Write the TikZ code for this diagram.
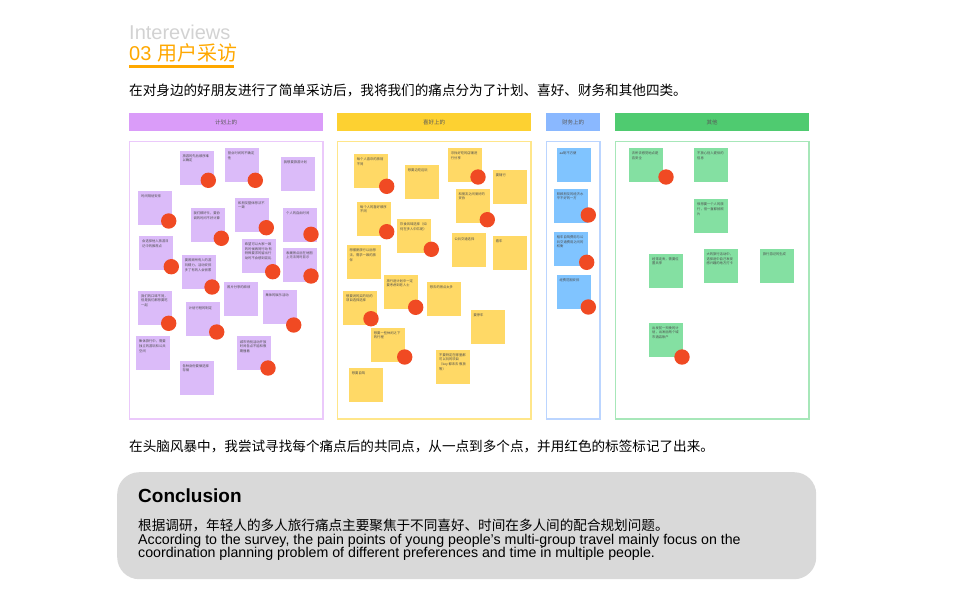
\documentclass[tikz,border=0pt]{standalone}
\usepackage{fontspec}
\setmainfont{Liberation Sans}
\newfontfamily\cjk{Noto Sans CJK SC}
\XeTeXlinebreaklocale "zh"
\XeTeXlinebreakskip=0pt plus 1pt
\definecolor{titlegray}{HTML}{D2D2D2}
\definecolor{orangeC}{HTML}{FFA800}
\definecolor{pHead}{HTML}{DA9CF9}
\definecolor{pFrame}{HTML}{EBC9FB}
\definecolor{pNote}{HTML}{DBBBF9}
\definecolor{yHead}{HTML}{FDD131}
\definecolor{yFrame}{HTML}{FFE68A}
\definecolor{yNote}{HTML}{FFD966}
\definecolor{bHead}{HTML}{8AB8FF}
\definecolor{bFrame}{HTML}{BBD5FF}
\definecolor{bNote}{HTML}{80C4FF}
\definecolor{gHead}{HTML}{4FCB70}
\definecolor{gFrame}{HTML}{A7E7B9}
\definecolor{gNote}{HTML}{84E0A2}
\definecolor{redDot}{HTML}{F04A23}
\definecolor{concl}{HTML}{D9D9D9}
\newcommand\nt[1]{\parbox[t][26pt][t]{28pt}{\raggedright #1}}
\begin{document}
\begin{tikzpicture}[x=1pt,y=-1pt,
  note/.style={anchor=north west, minimum width=34pt, minimum height=34pt, inner sep=3pt, font=\cjk\fontsize{3.3}{4.6}\selectfont, text=black!70},
  pn/.style={note, fill=pNote},
  yn/.style={note, fill=yNote},
  bn/.style={note, fill=bNote},
  gn/.style={note, fill=gNote},
  dot/.style={circle, fill=redDot, minimum size=15.4pt, inner sep=0pt},
  head/.style={anchor=north west, minimum height=18pt, inner sep=0pt, font=\cjk\fontsize{5.5}{6}\selectfont, text=black!65},
  frame/.style={line width=1.2pt},
  bodytext/.style={anchor=base west, inner sep=0pt, font=\cjk\fontsize{13.6}{16}\selectfont}
]
\useasboundingbox (0,0) rectangle (957,600);

% titles
\node[anchor=base west, inner sep=0pt, text=titlegray, font=\fontsize{20}{24}\selectfont] (ttl) at (129,39) {Intereviews};
\node[anchor=base west, inner sep=0pt, text=orangeC, font=\fontsize{20}{24}\selectfont] (sub) at (129,60.5) {03 {\cjk 用户采访}};
\coordinate (ulA) at (129,66.5);
\coordinate (ulB) at (234,66.5);
\draw[orangeC, line width=3pt] (ulA) -- (ulB);
\node[bodytext] (intro) at (129,95) {在对身边的好朋友进行了简单采访后，我将我们的痛点分为了计划、喜好、财务和其他四类。};

% headers
\node[head, fill=pHead, minimum width=194pt] (hp) at (129,113) {计划上的};
\node[head, fill=yHead, minimum width=194pt] (hy) at (337,113) {喜好上的};
\node[head, fill=bHead, minimum width=54pt] (hb) at (546,113) {财务上的};
\node[head, fill=gHead, minimum width=194pt] (hg) at (615,113) {其他};

% frames
\draw[frame, pFrame] (129.5,141.5) rectangle (323,419);
\draw[frame, yFrame] (337.5,141.5) rectangle (531,419);
\draw[frame, bFrame] (546.5,141.5) rectangle (600,419);
\draw[frame, gFrame] (615.5,141.5) rectangle (809,419);

% purple notes
\node[pn] (p1) at (179.3,150.3) {\nt{旅游的先后顺序难以确定}};
\node[pn] (p2) at (224.7,148) {\nt{营业时间的不确定性}};
\node[pn] (p3) at (280.7,156.3) {\nt{我想要旅游计划}};
\node[pn] (p4) at (138,191) {\nt{时间规划安排}};
\node[pn] (p5) at (190.3,208) {\nt{我们都好忙，要协调的时间不好计算}};
\node[pn] (p6) at (235,197.3) {\nt{和朋友整体想法不一致}};
\node[pn] (p7) at (283,208) {\nt{个人的自由时间}};
\node[pn] (p8) at (139,236) {\nt{会选择他人旅游日记中的推荐点}};
\node[pn] (p9) at (241.7,238.7) {\nt{希望可以大家一致的时候再同行动 有特殊要求的留出行动时不会感到混乱}};
\node[pn] (p10) at (283,247.3) {\nt{收藏景点后在地图上无法同时显示}};
\node[pn] (p11) at (181.7,255) {\nt{要照顾所有人的游玩精力，活动安排多了有的人会很累}};
\node[pn] (p12) at (224,281.7) {\nt{照片分享的麻烦}};
\node[pn] (p13) at (262.3,290) {\nt{集体的娱乐活动}};
\node[pn] (p14) at (138,290.3) {\nt{我们的口味不同，但是我们都想要吃一起}};
\node[pn] (p15) at (185.7,302) {\nt{计划行程的制定}};
\node[pn] (p16) at (136,336) {\nt{集体旅行中，需要独立的游玩和公共空间}};
\node[pn] (p17) at (236.7,336) {\nt{城市特别活动开放时间各点不能和假期撞着}};
\node[pn] (p18) at (179.3,360.3) {\nt{各种身份要做选择存储}};

% yellow notes
\node[yn] (y1) at (353.7,154) {\nt{每个人喜欢的旅馆不同}};
\node[yn] (y2) at (404.7,164.3) {\nt{想要边吃边玩}};
\node[yn] (y3) at (447.7,147.7) {\nt{寻找好吃的店铺进行分享}};
\node[yn] (y4) at (492.7,169.3) {\nt{要随行}};
\node[yn] (y5) at (455.3,188.3) {\nt{和朋友之间爱好的妥协}};
\node[yn] (y6) at (357,201.3) {\nt{每个人的喜好顺序不同}};
\node[yn] (y7) at (397,218.7) {\nt{饮食风味选择（如何在多人中匹配）}};
\node[yn] (y8) at (451.3,233) {\nt{公共交通选择}};
\node[yn] (y9) at (492.7,236) {\nt{看车}};
\node[yn] (y10) at (346.3,245) {\nt{想摆脱旅行以后想法，需求一致的旅伴}};
\node[yn] (y11) at (383.3,275) {\nt{旅行途计划中一定要考虑到老人士}};
\node[yn] (y12) at (426.7,281.7) {\nt{想去的景点太多}};
\node[yn] (y13) at (343,290.3) {\nt{想要说的买的玩的项目选择选择}};
\node[yn] (y14) at (470.3,309.7) {\nt{要停车}};
\node[yn] (y15) at (370.7,327.3) {\nt{想要一些休闲之下的行程}};
\node[yn] (y16) at (436,349.3) {\nt{不要特定在哪里都可以玩的项目（key 都未去 假放等）}};
\node[yn] (y17) at (348.7,368) {\nt{想要自驾}};

% blue notes
\node[bn] (b1) at (556.3,148) {\nt{aa制不方便}};
\node[bn] (b2) at (553.7,188.3) {\nt{照顾朋友的经济水平不好的一方}};
\node[bn] (b3) at (553.7,231.7) {\nt{租车自驾费用与公共交通费用之间的权衡}};
\node[bn] (b4) at (556.3,275) {\nt{经费范围安排}};

% green notes
\node[gn] (g1) at (628.7,148) {\nt{去所去感觉地点是否安全}};
\node[gn] (g2) at (694,148) {\nt{不放心别人提供的信息}};
\node[gn] (g3) at (694,199) {\nt{很想要一个人的旅行，但一直都拍照片}};
\node[gn] (g4) at (649,253.3) {\nt{经常走丢，需要位置共享}};
\node[gn] (g5) at (703.3,248.7) {\nt{大的旅行活动中，选择途中自己发现感兴趣的地方打卡}};
\node[gn] (g6) at (759.7,248.7) {\nt{旅行游记的生成}};
\node[gn] (g7) at (649,322.3) {\nt{出发前一天晚的计划，出发后两个城市酒店账户}};

% red dots
\node[dot] (dp1) at (208.3,180.3) {};
\node[dot] (dp2) at (255.3,180.3) {};
\node[dot] (dp4) at (168.7,221) {};
\node[dot] (dp5) at (221.3,238.3) {};
\node[dot] (dp6) at (266.3,227.7) {};
\node[dot] (dp7) at (311,234.3) {};
\node[dot] (dp8) at (171.3,266.7) {};
\node[dot] (dp9) at (272.7,271.7) {};
\node[dot] (dp10) at (311,276) {};
\node[dot] (dp11) at (212,287) {};
\node[dot] (dp13) at (293.7,325) {};
\node[dot] (dp14) at (168.7,323.3) {};
\node[dot] (dp15) at (216.7,332) {};
\node[dot] (dp17) at (268,368) {};
\node[dot] (dy1) at (386.7,186.3) {};
\node[dot] (dy3) at (478,177) {};
\node[dot] (dy5) at (487.3,219.7) {};
\node[dot] (dy6) at (386.7,231.7) {};
\node[dot] (dy7) at (431.3,249.3) {};
\node[dot] (dy11) at (415.7,307.3) {};
\node[dot] (dy13) at (371,318.7) {};
\node[dot] (dy15) at (404.7,357) {};
\node[dot] (db2) at (588.3,215) {};
\node[dot] (db3) at (586.7,262.3) {};
\node[dot] (db4) at (588.3,307) {};
\node[dot] (dg1) at (666,177) {};
\node[dot] (dg7) at (682,357) {};

% brainstorm line
\node[bodytext] (brain) at (129,451) {在头脑风暴中，我尝试寻找每个痛点后的共同点，从一点到多个点，并用红色的标签标记了出来。};

% conclusion
\node[anchor=north west, fill=concl, rounded corners=22pt, minimum width=699pt, minimum height=107pt, inner sep=0pt] (cbox) at (117,472) {};
\node[anchor=base west, inner sep=0pt, font=\bfseries\fontsize{19}{22}\selectfont] (ctitle) at (138,502) {Conclusion};
\node[anchor=base west, inner sep=0pt, font=\cjk\fontsize{13.6}{16}\selectfont] (czh) at (138,530) {根据调研，年轻人的多人旅行痛点主要聚焦于不同喜好、时间在多人间的配合规划问题。};
\node[anchor=base west, inner sep=0pt, font=\fontsize{14.2}{13}\selectfont] (cen1) at (138,544.5) {According to the survey, the pain points of young people's multi-group travel mainly focus on the};
\node[anchor=base west, inner sep=0pt, font=\fontsize{14.2}{13}\selectfont] (cen2) at (138,557.5) {coordination planning problem of different preferences and time in multiple people.};
\end{tikzpicture}
\end{document}
